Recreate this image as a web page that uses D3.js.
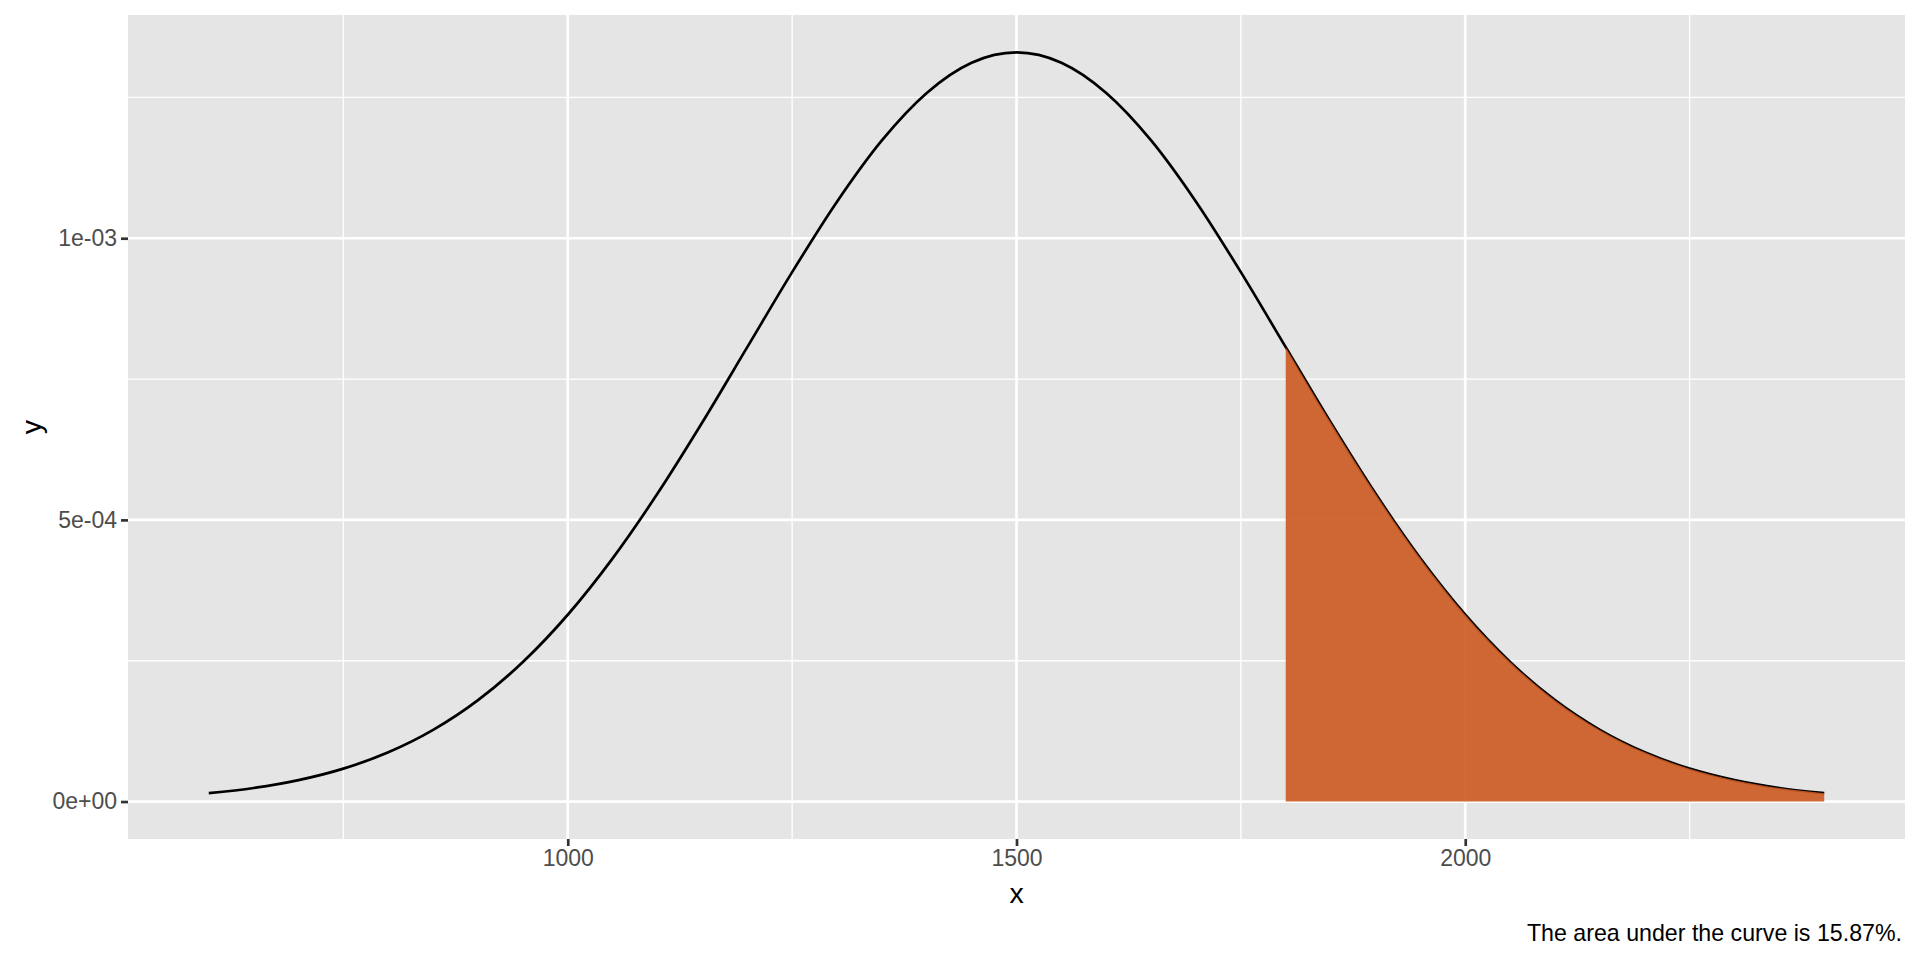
<!DOCTYPE html>
<html>
<head>
<meta charset="utf-8">
<script src="https://cdn.jsdelivr.net/npm/d3@7"></script>
<style>
  html, body { margin: 0; padding: 0; background: #ffffff; }
  svg { display: block; font-family: "Liberation Sans", Arial, Helvetica, sans-serif; }
</style>
</head>
<body>
<svg id="chart" width="1920" height="960"></svg>
<script>
// ---- data ----
const xValues = [600, 650, 700, 750, 800, 850, 900, 950, 1000, 1050, 1100, 1150, 1200, 1250,
  1300, 1350, 1400, 1450, 1500, 1550, 1600, 1650, 1700, 1750, 1800, 1850, 1900, 1950,
  2000, 2050, 2100, 2150, 2200, 2250, 2300, 2350, 2400];
const yValues = [1.48e-5, 2.40e-5, 3.80e-5, 5.84e-5, 8.74e-5, 1.272e-4, 1.800e-4, 2.477e-4,
  3.316e-4, 4.317e-4, 5.467e-4, 6.733e-4, 8.066e-4, 9.398e-4, 1.0648e-3, 1.1736e-3,
  1.2579e-3, 1.3115e-3, 1.3298e-3, 1.3115e-3, 1.2579e-3, 1.1736e-3, 1.0648e-3, 9.398e-4,
  8.066e-4, 6.733e-4, 5.467e-4, 4.317e-4, 3.316e-4, 2.477e-4, 1.800e-4, 1.272e-4,
  8.74e-5, 5.84e-5, 3.80e-5, 2.40e-5, 1.48e-5];
const shadeFrom = 1800;
const shadeTo = 2400;
const xBreaks = [1000, 1500, 2000];
const xMinor = [750, 1250, 1750, 2250];
const yBreaks = [0, 5e-4, 1e-3];
const yLabels = ["0e+00", "5e-04", "1e-03"];
const yMinor = [2.5e-4, 7.5e-4, 1.25e-3];
const xTitle = "x";
const yTitle = "y";
const caption = "The area under the curve is 15.87%.";

// ---- layout ----
const W = 1920, H = 960;
const panel = { left: 128, top: 15, right: 1905, bottom: 839 };

const points = xValues.map((x, i) => ({ x: x, y: yValues[i] }));
const shaded = points.filter(d => d.x >= shadeFrom && d.x <= shadeTo);

const xMin = d3.min(xValues), xMax = d3.max(xValues);
const yMax = d3.max(yValues), yMin = 0;
const xPad = (xMax - xMin) * 0.05, yPad = (yMax - yMin) * 0.05;

const x = d3.scaleLinear().domain([xMin - xPad, xMax + xPad]).range([panel.left, panel.right]);
const y = d3.scaleLinear().domain([yMin - yPad, yMax + yPad]).range([panel.bottom, panel.top]);

const svg = d3.select("#chart");

// panel background
svg.append("rect")
  .attr("x", panel.left).attr("y", panel.top)
  .attr("width", panel.right - panel.left).attr("height", panel.bottom - panel.top)
  .attr("fill", "#E5E5E5");

const grid = svg.append("g");
// minor grid
grid.selectAll("line.xminor").data(xMinor).enter().append("line")
  .attr("x1", d => x(d)).attr("x2", d => x(d))
  .attr("y1", panel.top).attr("y2", panel.bottom)
  .attr("stroke", "#ffffff").attr("stroke-width", 1.35);
grid.selectAll("line.yminor").data(yMinor).enter().append("line")
  .attr("y1", d => y(d)).attr("y2", d => y(d))
  .attr("x1", panel.left).attr("x2", panel.right)
  .attr("stroke", "#ffffff").attr("stroke-width", 1.35);
// major grid
grid.selectAll("line.xmajor").data(xBreaks).enter().append("line")
  .attr("x1", d => x(d)).attr("x2", d => x(d))
  .attr("y1", panel.top).attr("y2", panel.bottom)
  .attr("stroke", "#ffffff").attr("stroke-width", 2.7);
grid.selectAll("line.ymajor").data(yBreaks).enter().append("line")
  .attr("y1", d => y(d)).attr("y2", d => y(d))
  .attr("x1", panel.left).attr("x2", panel.right)
  .attr("stroke", "#ffffff").attr("stroke-width", 2.7);

// curve
const line = d3.line().x(d => x(d.x)).y(d => y(d.y)).curve(d3.curveMonotoneX);
svg.append("path").datum(points)
  .attr("d", line)
  .attr("fill", "none").attr("stroke", "#000000").attr("stroke-width", 2.7);

// shaded area (drawn above the line, as in the reference)
const area = d3.area().x(d => x(d.x)).y0(y(0)).y1(d => y(d.y)).curve(d3.curveMonotoneX);
svg.append("path").datum(shaded)
  .attr("d", area)
  .attr("fill", "#CC5920").attr("fill-opacity", 0.9);

// axes
const xAxis = d3.axisBottom(x).tickValues(xBreaks).tickSize(7).tickPadding(4).tickFormat(d3.format("d"));
const gx = svg.append("g").attr("transform", `translate(0,${panel.bottom})`).call(xAxis);
gx.select(".domain").remove();
gx.selectAll(".tick line").attr("stroke", "#333333").attr("stroke-width", 2.7);
gx.selectAll(".tick text").attr("fill", "#4D4D4D").attr("font-size", "23px");

const yAxis = d3.axisLeft(y).tickValues(yBreaks).tickSize(7).tickPadding(4)
  .tickFormat((d, i) => yLabels[i]);
const gy = svg.append("g").attr("transform", `translate(${panel.left},0)`).call(yAxis);
gy.select(".domain").remove();
gy.selectAll(".tick line").attr("stroke", "#333333").attr("stroke-width", 2.7);
gy.selectAll(".tick text").attr("fill", "#4D4D4D").attr("font-size", "23px");

// axis titles
svg.append("text")
  .attr("x", (panel.left + panel.right) / 2).attr("y", 903)
  .attr("text-anchor", "middle").attr("font-size", "28.5px").attr("fill", "#000000")
  .text(xTitle);
svg.append("text")
  .attr("transform", `translate(41,${(panel.top + panel.bottom) / 2}) rotate(-90)`)
  .attr("text-anchor", "middle").attr("font-size", "28.5px").attr("fill", "#000000")
  .text(yTitle);

// caption
svg.append("text")
  .attr("x", panel.right - 3).attr("y", 941)
  .attr("text-anchor", "end").attr("font-size", "23.2px").attr("fill", "#000000")
  .text(caption);
</script>
</body>
</html>
